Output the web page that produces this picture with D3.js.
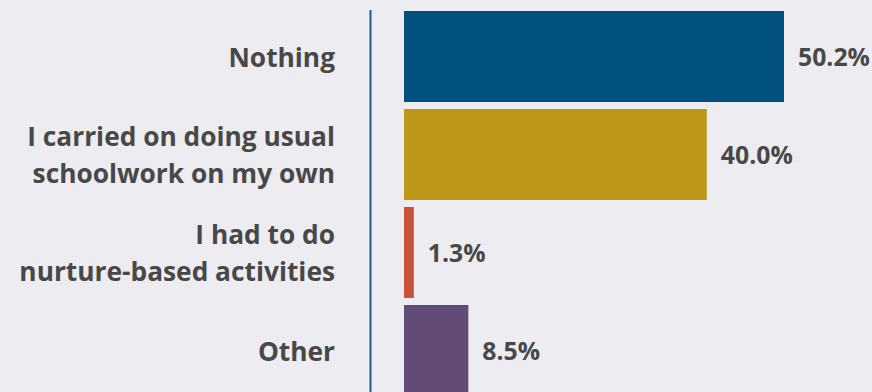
<!DOCTYPE html>
<html>
<head>
<meta charset="utf-8">
<script src="https://cdn.jsdelivr.net/npm/d3@7"></script>
<style>
   body { margin: 0; background: #edecf1; }
   svg { display: block; }
   .label { font-family: "Open Sans", sans-serif; font-weight: 700; font-size: 26.3px; fill: #484848; }
   .valueLabel { font-family: "Open Sans", sans-serif; font-weight: 700; font-size: 24.8px; fill: #484848; }
</style>
</head>
<body>
<div id="bar-chart"></div>
<script>
const width = 872;
const height = 392;

const categories = [
   "Nothing",
   "I carried on doing usual\nschoolwork on my own",
   "I had to do\nnurture-based activities",
   "Other"
];
const values = [50.2, 40.0, 1.3, 8.5];
const colors = ["#00517f", "#bc9718", "#c8533a", "#634b78"];

const data = categories.map((c, i) => ({ name: c, value: values[i], color: colors[i] }));

const svg = d3.select("#bar-chart").append("svg")
   .attr("width", width)
   .attr("height", height);

svg.append("rect")
   .attr("width", width)
   .attr("height", height)
   .attr("fill", "#edecf1");

let x = d3.scaleLinear()
   .domain([0, 50.2])
   .range([404, 784]);

let y = d3.scaleBand()
   .domain(categories)
   .range([11, 396])
   .paddingInner(7 / 98)
   .paddingOuter(0);

// axis line
svg.append("line")
   .attr("x1", 370.5)
   .attr("x2", 370.5)
   .attr("y1", 10)
   .attr("y2", height)
   .attr("stroke", "#1a5d8c")
   .attr("stroke-width", 2);

svg.selectAll("rect.bar")
   .data(data)
   .enter()
   .append("rect")
   .attr("class", "bar")
   .attr("x", x(0))
   .attr("y", d => y(d.name))
   .attr("width", d => x(d.value) - x(0))
   .attr("height", y.bandwidth())
   .style("fill", d => d.color);

// category labels, multi-line
svg.selectAll("text.label")
   .data(data)
   .enter()
   .append("text")
   .attr("class", "label")
   .attr("text-anchor", "end")
   .each(function(d) {
      const lines = d.name.split("\n");
      const lineH = 37;
      const mid = y(d.name) + y.bandwidth() / 2 + 10;
      const first = mid - (lines.length - 1) * lineH / 2;
      lines.forEach((l, i) => {
         d3.select(this).append("tspan")
            .attr("x", 335)
            .attr("y", first + i * lineH)
            .text(l);
      });
   });

svg.selectAll("text.valueLabel")
   .data(data)
   .enter()
   .append("text")
   .attr("class", "valueLabel")
   .attr("x", d => x(d.value) + 14)
   .attr("y", d => y(d.name) + y.bandwidth() / 2 + 9)
   .text(d => d.value.toFixed(1) + "%");
</script>
</body>
</html>
